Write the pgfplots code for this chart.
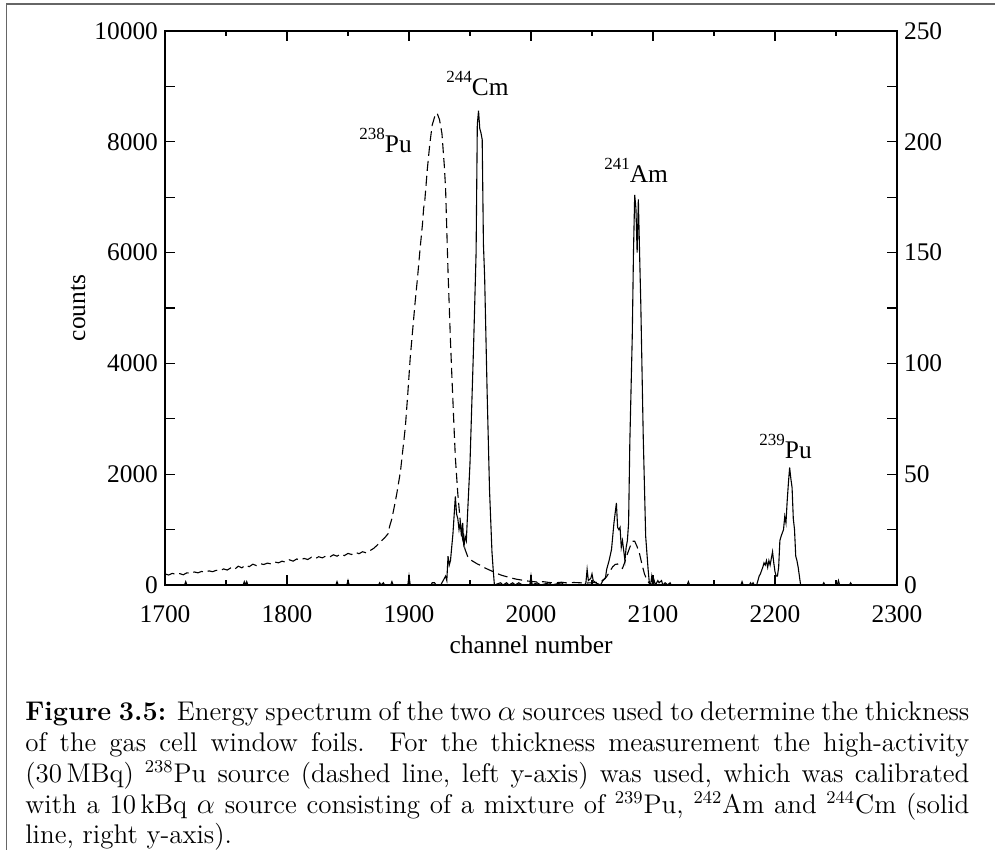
\documentclass[border=0pt]{standalone}
\usepackage{fontspec}
\usepackage{pgfplots}
\pgfplotsset{compat=1.18}
\newfontfamily\tnr{Liberation Serif}
\newcommand\lab{\tnr\fontsize{12.7}{15}\selectfont}
\newcommand\iso[2]{\raisebox{0.55em}{\fontsize{8.5}{9}\selectfont #1}#2}
\newcommand\capline[1]{\makebox[472pt][s]{#1}}
\pgfplotstableread{
x y
1700 200
1703 180
1706 210
1709 190
1712 205
1715 185
1718 220
1721 210
1724 235
1727 220
1730 245
1733 230
1736 255
1739 240
1742 265
1745 255
1748 290
1751 270
1754 310
1757 280
1760 340
1763 310
1766 360
1769 330
1772 375
1775 350
1778 385
1781 370
1784 395
1787 380
1790 415
1793 400
1796 430
1799 410
1802 455
1805 430
1808 470
1811 450
1814 480
1817 460
1820 500
1823 475
1826 510
1829 490
1832 525
1835 505
1838 545
1841 520
1844 560
1847 530
1850 570
1853 550
1856 590
1859 565
1862 600
1865 580
1868 620
1871 660
1874 720
1877 790
1880 850
1883 930
1884 1050
1886 1200
1888 1420
1890 1650
1893 2050
1895 2450
1897 2850
1899 3450
1901 4100
1903 4600
1905 5100
1907 5550
1909 6050
1911 6500
1912 6800
1913 6950
1915 7500
1917 7950
1919 8300
1921 8450
1923 8520
1925 8400
1927 8150
1929 7550
1930 7150
1932 5650
1934 4400
1935 3850
1937 2800
1938 2300
1940 1650
1942 1150
1944 820
1946 640
1948 520
1950 460
1953 420
1956 380
1958 360
1961 320
1964 290
1967 260
1970 230
1973 200
1976 175
1980 150
1984 125
1988 105
1992 90
1996 75
2000 65
2005 55
2010 60
2015 45
2020 40
2025 50
2030 35
2035 45
2040 40
2045 35
2050 40
2055 50
2058 70
2062 150
2065 260
2067 330
2069 370
2071 380
2073 330
2075 300
2077 420
2079 560
2081 680
2083 790
2085 790
2087 690
2089 560
2091 370
2093 200
2095 90
2097 30
2100 0
2300 0
}\dashedtab
\pgfplotstableread{
x y
1700 0
1716 0
1717 1.5
1718 0
1764 0
1765 1.5
1766 0
1767 1.5
1768 0
1840 0
1841 1.5
1842 0
1849 0
1850 2
1851 0
1875 0
1876 1
1877 0
1879 1
1880 0
1885 0
1886 1.5
1887 0
1899 0
1900 4
1901 0
1918 0
1919 1
1921 1
1922 0
1926 0
1928 2
1930 4
1931 2
1932 13
1933 9
1934 11
1936 23
1938 40
1939 32
1940 30
1941 25
1942 28
1943 22
1944 28
1945 17
1946 22
1947 20
1948 32
1950 55
1951 73
1953 109
1955 150
1956 208
1957 214
1958 206
1959 204
1960 201
1961 154
1962 139
1964 88
1966 43
1968 15
1969 7
1970 0
1975 1
1977 0
1980 1
1982 0
1985 1
1987 0
1990 1
1993 0
1999 0
2000 4
2001 0
2005 1
2008 0
2015 1
2017 0
2025 1
2027 0
2044 0
2045 1
2046 7
2047 2
2049 3
2050 5
2051 2
2053 1
2057 0
2059 2
2061 3
2062 7
2064 11
2066 16
2068 28
2070 37
2071 26
2072 25
2073 26
2074 17
2075 20
2077 11
2078 17
2079 20
2080 28
2081 64
2083 112
2084 150
2085 176
2086 170
2087 150
2088 174
2089 150
2090 127
2092 67
2094 22
2096 7
2097 1
2098 0
2099 4
2100 0
2101 2
2102 0
2104 2
2105 1
2107 2
2108 0
2110 1
2112 0
2114 1
2115 0
2128 0
2129 1.5
2130 0
2172 0
2173 1.5
2174 0
2179 0
2180 1
2181 0
2182 1
2183 0
2185 0
2187 4
2188 5
2190 8
2191 10
2192 9
2193 11
2194 8
2195 11
2196 9
2197 12
2198 15
2199 10
2200 6
2201 4
2202 4
2203 8
2204 20
2205 22
2207 25
2208 31
2209 28
2210 38
2211 46
2212 53
2213 48
2214 44
2215 30
2216 25
2217 13
2218 11
2219 8
2220 4
2221 0
2239 0
2240 1
2241 0
2251 0
2252 2
2253 0
2261 0
2262 1
2263 0
2300 0
}\solidtab
\begin{document}
\begin{tikzpicture}[x=1pt,y=1pt]
\useasboundingbox (0,0) rectangle (497.5,425);
\draw[line width=0.7pt, black!60] (3.3,0) -- (3.3,423) -- (497.5,423);
\pgfplotsset{
  common/.style={
    at={(82.5pt,132.5pt)}, anchor=south west,
    width=366pt, height=277pt, scale only axis,
    xmin=1700, xmax=2300,
    axis line style={line width=0.7pt},
    major tick length=5pt, minor tick length=2.5pt,
    every tick/.style={line width=0.6pt, black},
    tick label style={font=\lab},
    /pgf/number format/assume math mode=true,
    /pgf/number format/1000 sep={},
    scaled x ticks=false, scaled y ticks=false,
  }
}
\begin{axis}[common,
  ymin=0, ymax=10000,
  xtick={1700,1800,...,2300}, minor x tick num=1,
  ytick={0,2000,...,10000},
  extra y ticks={1000,3000,5000,7000,9000}, extra y tick labels={},
  ytick pos=left, xtick pos=both,
  xticklabel style={yshift=-7pt},
]
\addplot[black, line width=0.55pt, dash pattern=on 5pt off 2.5pt] table[x=x,y=y] {\dashedtab};
\end{axis}
\begin{axis}[common,
  ymin=0, ymax=250,
  axis x line=none, axis y line*=right,
  ytick={0,50,...,250},
  extra y ticks={25,75,125,175,225}, extra y tick labels={},
]
\addplot[black, line width=0.55pt] table[x=x,y=y] {\solidtab};
\end{axis}
\node[font=\lab, rotate=90] at (39,271) {counts};
\node[font=\lab] at (265.5,102.5) {channel number};
\node[font=\lab, anchor=base west, inner sep=0] at (179.5,348.5) {\iso{238}{Pu}};
\node[font=\lab, anchor=base west, inner sep=0] at (223,377) {\iso{244}{Cm}};
\node[font=\lab, anchor=base west, inner sep=0] at (302,333.5) {\iso{241}{Am}};
\node[font=\lab, anchor=base west, inner sep=0] at (379.5,195.5) {\iso{239}{Pu}};
\begin{scope}[every node/.style={anchor=base west, inner sep=0, font=\fontsize{13.5}{16}\selectfont}]
\node at (12.5,64.5) {\capline{\textbf{Figure 3.5:} Energy spectrum of the two $\alpha$ sources used to determine the thickness}};
\node at (12.5,49) {\capline{of the gas cell window foils. For the thickness measurement the high-activity}};
\node at (12.5,33.5) {\capline{(30\,MBq) $^{238}$Pu source (dashed line, left y-axis) was used, which was calibrated}};
\node at (12.5,18) {\capline{with a 10\,kBq $\alpha$ source consisting of a mixture of $^{239}$Pu, $^{242}$Am and $^{244}$Cm (solid}};
\node at (12.5,3) {line, right y-axis).};
\end{scope}
\end{tikzpicture}
\end{document}
